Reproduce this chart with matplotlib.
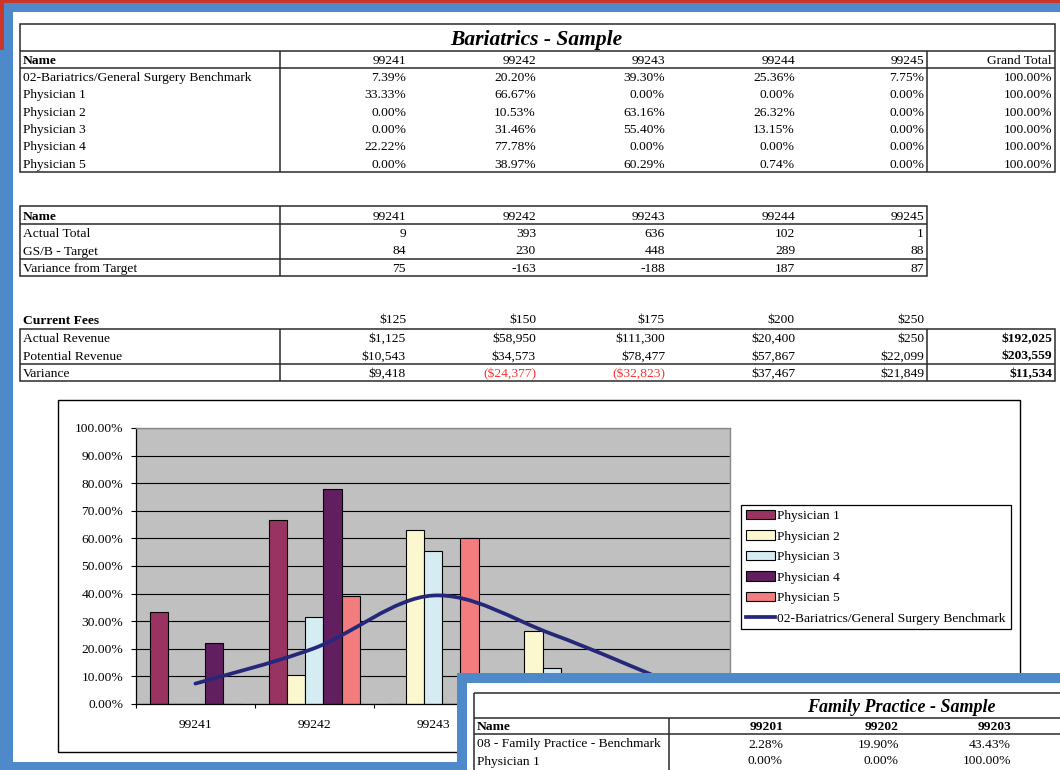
import matplotlib.pyplot as plt
from matplotlib.patches import Rectangle, PathPatch
from matplotlib.path import Path
from matplotlib.lines import Line2D

plt.rcParams['font.family'] = ['Liberation Serif', 'DejaVu Serif']

# ---- data ----
codes = ['99241', '99242', '99243', '99244', '99245']
names = ['02-Bariatrics/General Surgery Benchmark', 'Physician 1', 'Physician 2',
         'Physician 3', 'Physician 4', 'Physician 5']
benchmark = [7.39, 20.20, 39.30, 25.36, 7.75]
phys1 = [33.33, 66.67, 0.00, 0.00, 0.00]
phys2 = [0.00, 10.53, 63.16, 26.32, 0.00]
phys3 = [0.00, 31.46, 55.40, 13.15, 0.00]
phys4 = [22.22, 77.78, 0.00, 0.00, 0.00]
phys5 = [0.00, 38.97, 60.29, 0.74, 0.00]
grand_total = [100.00, 100.00, 100.00, 100.00, 100.00, 100.00]

actual_total = [9, 393, 636, 102, 1]
target = [84, 230, 448, 289, 88]
var_target = [75, -163, -188, 187, 87]

fees = [125, 150, 175, 200, 250]
actual_rev = [1125, 58950, 111300, 20400, 250]
potential_rev = [10543, 34573, 78477, 57867, 22099]
variance_rev = [9418, -24377, -32823, 37467, 21849]
rev_totals = [192025, 203559, 11534]

fp_codes = ['99201', '99202', '99203']
fp_names = ['08 - Family Practice - Benchmark', 'Physician 1']
fp_bench = [2.28, 19.90, 43.43]
fp_phys1 = [0.00, 0.00, 100.00]

# ---- style ----
BLUE = '#4E8AC9'
RED = '#C9372C'
LINE = '#2A2A2A'
NAVY = '#27277A'
BAR_COLORS = ['#993362', '#FBF8D0', '#D4ECF2', '#611F5F', '#F27C7E']
FS = 9.7

W, H = 1060, 770
fig = plt.figure(figsize=(W / 100, H / 100), dpi=100)
fig.patch.set_facecolor(BLUE)

bg = fig.add_axes([0, 0, 1, 1], zorder=0)
bg.set_xlim(0, W)
bg.set_ylim(H, 0)
bg.axis('off')


def rect(a, x0, y0, x1, y1, **kw):
    a.add_patch(Rectangle((x0, y0), x1 - x0, y1 - y0, **kw))


def box(a, x0, y0, x1, y1):
    rect(a, x0, y0, x1, y1, fill=False, ec=LINE, lw=1.1)


def hl(a, y, x0, x1):
    a.plot([x0, x1], [y, y], color=LINE, lw=1.1, solid_capstyle='butt')


def vl(a, x, y0, y1):
    a.plot([x, x], [y0, y1], color=LINE, lw=1.1, solid_capstyle='butt')


def tx(a, x, y, s, ha='right', bold=False, color='black', size=FS, style='normal'):
    a.text(x, y, s, ha=ha, va='center_baseline', fontsize=size, color=color,
           fontweight='bold' if bold else 'normal', fontstyle=style)


def pct(v):
    return f'{v:.2f}%'


def money(v):
    return f'${v:,.0f}' if v >= 0 else f'(${-v:,.0f})'


# background frame
rect(bg, 0, 0, W, 3, color=RED, lw=0)
rect(bg, 0, 0, 4, 50, color=RED, lw=0)
rect(bg, 13, 12, W, 762, color='white', lw=0)

col_right = [406, 536, 665, 795, 924, 1052]
NAME_X = 23

# ---- table 1 ----
box(bg, 20, 24, 1055, 172)
hl(bg, 51, 20, 1055)
hl(bg, 68, 20, 1055)
vl(bg, 280, 51, 172)
vl(bg, 927, 51, 172)
tx(bg, 536, 38, 'Bariatrics - Sample', ha='center', bold=True, size=15.5, style='italic')
tx(bg, NAME_X, 60, 'Name', ha='left', bold=True)
for x, c in zip(col_right, codes + ['Grand Total']):
    tx(bg, x, 60, c)
rows1 = [benchmark, phys1, phys2, phys3, phys4, phys5]
for k, (nm, vals) in enumerate(zip(names, rows1)):
    y = 68 + 17.33 * (k + 0.5)
    tx(bg, NAME_X, y, nm, ha='left')
    for x, v in zip(col_right, vals + [grand_total[k]]):
        tx(bg, x, y, pct(v))

# ---- table 2 ----
box(bg, 20, 206, 927, 276)
hl(bg, 224, 20, 927)
hl(bg, 259, 20, 927)
vl(bg, 280, 206, 276)
tx(bg, NAME_X, 215, 'Name', ha='left', bold=True)
for x, c in zip(col_right, codes):
    tx(bg, x, 215, c)
for y, nm, vals in zip([232.5, 250, 267.5],
                       ['Actual Total', 'GS/B - Target', 'Variance from Target'],
                       [actual_total, target, var_target]):
    tx(bg, NAME_X, y, nm, ha='left')
    for x, v in zip(col_right, vals):
        tx(bg, x, y, str(v))

# ---- table 3 ----
tx(bg, NAME_X, 319, 'Current Fees', ha='left', bold=True)
for x, v in zip(col_right, fees):
    tx(bg, x, 319, money(v))
box(bg, 20, 329, 1055, 381)
hl(bg, 364, 20, 1055)
vl(bg, 280, 329, 381)
vl(bg, 927, 329, 381)
for y, nm, vals, tot in zip([337.5, 355, 372.5],
                            ['Actual Revenue', 'Potential Revenue', 'Variance'],
                            [actual_rev, potential_rev, variance_rev], rev_totals):
    tx(bg, NAME_X, y, nm, ha='left')
    for x, v in zip(col_right, vals):
        tx(bg, x, y, money(v), color='#FF3030' if v < 0 else 'black')
    tx(bg, col_right[5], y, money(tot), bold=True)

# ---- chart ----
rect(bg, 58, 400, 1020, 752, fill=False, ec='black', lw=1)
ax = fig.add_axes([136 / W, 1 - 704 / H, (730 - 136) / W, (704 - 428) / H], zorder=1)
ax.set_facecolor('#C0C0C0')
ax.set_axisbelow(True)
xs = list(range(len(codes)))
bw = 1 / 6.5
series = [phys1, phys2, phys3, phys4, phys5]
handles = []
for j, vals in enumerate(series):
    bc = ax.bar([x + (j - 2) * bw for x in xs], vals, width=bw, color=BAR_COLORS[j],
                edgecolor='black', linewidth=0.8, zorder=2)
    handles.append(bc)


def smooth_path(px, py):
    pts = list(zip(px, py))
    n = len(pts)
    verts = [pts[0]]
    cds = [Path.MOVETO]
    for i in range(n - 1):
        p0 = pts[max(i - 1, 0)]
        p1 = pts[i]
        p2 = pts[i + 1]
        p3 = pts[min(i + 2, n - 1)]
        c1 = (p1[0] + (p2[0] - p0[0]) / 6, p1[1] + (p2[1] - p0[1]) / 6)
        c2 = (p2[0] - (p3[0] - p1[0]) / 6, p2[1] - (p3[1] - p1[1]) / 6)
        verts += [c1, c2, p2]
        cds += [Path.CURVE4] * 3
    return Path(verts, cds)


ax.add_patch(PathPatch(smooth_path(xs, benchmark), fill=False, ec=NAVY, lw=2.7,
                       capstyle='round', zorder=3))
handles.append(Line2D([], [], color=NAVY, lw=2.7))

ax.set_xlim(-0.5, len(codes) - 0.5)
ax.set_ylim(0, 100)
ax.set_yticks(range(0, 101, 10))
ax.set_yticklabels([pct(v) for v in range(0, 101, 10)])
ax.set_xticks([x - 0.5 for x in range(len(codes) + 1)])
ax.set_xticklabels([])
ax.set_xticks(xs, minor=True)
ax.set_xticklabels(codes, minor=True)
ax.tick_params(axis='y', direction='out', length=3.6, width=0.8, pad=5.5, labelsize=FS)
ax.tick_params(axis='x', which='major', direction='out', length=3, width=0.8)
ax.tick_params(axis='x', which='minor', length=0, pad=11, labelsize=FS)
ax.yaxis.grid(True, color='black', lw=0.8)
for s in ['left', 'bottom']:
    ax.spines[s].set_color('black')
    ax.spines[s].set_linewidth(0.9)
for s in ['top', 'right']:
    ax.spines[s].set_color('#8A8A8A')
    ax.spines[s].set_linewidth(1.0)

leg = ax.legend(handles, names[1:] + names[:1], loc='upper left',
                bbox_to_anchor=(741 / W, 1 - 505 / H), bbox_transform=fig.transFigure,
                borderaxespad=0, fancybox=False, edgecolor='black', framealpha=1,
                fontsize=FS, handlelength=2.2, handleheight=0.7, handletextpad=0.15,
                labelspacing=0.6, borderpad=0.35)
leg.get_frame().set_linewidth(0.9)

# ---- overlapping second sheet ----
ov = fig.add_axes([0, 0, 1, 1], zorder=2)
ov.set_xlim(0, W)
ov.set_ylim(H, 0)
ov.axis('off')
rect(ov, 457, 673, W, H, color=BLUE, lw=0)
rect(ov, 467, 683, W, H, color='white', lw=0)
hl(ov, 693, 474, W)
hl(ov, 718, 474, W)
hl(ov, 734, 474, W)
vl(ov, 474, 693, H)
vl(ov, 669, 718, H)
tx(ov, 901, 706, 'Family Practice - Sample', ha='center', bold=True, size=13, style='italic')
fp_right = [783, 899, 1011]
tx(ov, 477, 726, 'Name', ha='left', bold=True)
for x, c in zip(fp_right, fp_codes):
    tx(ov, x, 726, c, bold=True)
for y, nm, vals in zip([743, 760], fp_names, [fp_bench, fp_phys1]):
    tx(ov, 477, y, nm, ha='left')
    for x, v in zip(fp_right, vals):
        tx(ov, x, y, pct(v))

fig.savefig('out.png', dpi=100, facecolor=fig.get_facecolor())
